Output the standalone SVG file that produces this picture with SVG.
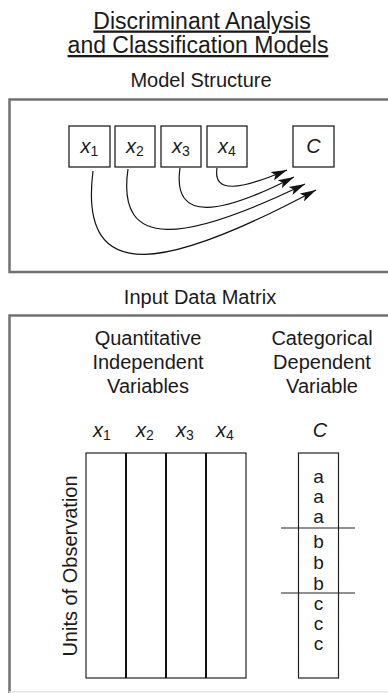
<svg xmlns="http://www.w3.org/2000/svg" width="388" height="693" viewBox="0 0 388 693">
  <style>
    text { font-family: "Liberation Sans", Arial, Helvetica, sans-serif; fill: #1a1a1a; }
    .title { font-size: 23px; text-anchor: middle; text-decoration: underline; }
    .head { font-size: 20px; text-anchor: middle; }
    .var { font-size: 20px; font-style: italic; text-anchor: middle; }
    .sub { font-size: 14px; font-style: normal; }
    .cat { font-size: 19px; text-anchor: middle; }
    .frame { fill: none; stroke: #707070; stroke-width: 2.5; }
    .box { fill: #fff; stroke: #222; stroke-width: 1.3; }
    .edge { fill: none; stroke: #111; stroke-width: 1.2; }
    .grid { fill: none; stroke: #222; stroke-width: 1.2; }
    .col { stroke: #111; stroke-width: 2; }
  </style>
  <defs>
    <marker id="arrow" markerUnits="userSpaceOnUse" markerWidth="17" markerHeight="11" refX="16" refY="5.5" orient="auto">
      <path d="M0,1 L16,5.5 L0,10 L3.5,5.5 Z" fill="#111"/>
    </marker>
  </defs>

  <rect width="388" height="693" fill="#fff"/>

  <!-- titles -->
  <text class="title" x="202" y="28.5">Discriminant Analysis</text>
  <text class="title" x="198" y="53">and Classification Models</text>
  <text class="head" x="201" y="87">Model Structure</text>

  <!-- model structure panel (open to the right) -->
  <path class="frame" d="M390,99.5 H9.5 V272 H390"/>

  <g id="node-x1">
    <rect class="box" x="69" y="126" width="41" height="41"/>
    <text class="var" x="89.5" y="153">x<tspan class="sub" dy="3">1</tspan></text>
  </g>
  <g id="node-x2">
    <rect class="box" x="115" y="126" width="40" height="41"/>
    <text class="var" x="135" y="153">x<tspan class="sub" dy="3">2</tspan></text>
  </g>
  <g id="node-x3">
    <rect class="box" x="161" y="126" width="40" height="41"/>
    <text class="var" x="181" y="153">x<tspan class="sub" dy="3">3</tspan></text>
  </g>
  <g id="node-x4">
    <rect class="box" x="207" y="126" width="40" height="41"/>
    <text class="var" x="227" y="153">x<tspan class="sub" dy="3">4</tspan></text>
  </g>
  <g id="node-C">
    <rect class="box" x="293" y="126" width="41" height="41"/>
    <text class="var" x="313.5" y="153">C</text>
  </g>

  <g id="connectors">
    <path class="edge" marker-end="url(#arrow)" d="M217,168 C213,194 240,190 287,170"/>
    <path class="edge" marker-end="url(#arrow)" d="M180,168 C172,224 222,214 294,177"/>
    <path class="edge" marker-end="url(#arrow)" d="M128,169 C116,252 185,242 305,184"/>
    <path class="edge" marker-end="url(#arrow)" d="M93,171 C78,290 170,268 316,190"/>
  </g>

  <!-- input data matrix panel -->
  <text class="head" x="200" y="304">Input Data Matrix</text>
  <path class="frame" d="M390,315.5 H9.5 V693"/>
  <line x1="9" y1="692" x2="390" y2="692" stroke="#e4e4e4" stroke-width="1.5"/>

  <g id="quantitative">
    <text class="head" x="148" y="345">Quantitative</text>
    <text class="head" x="148" y="369">Independent</text>
    <text class="head" x="148" y="393">Variables</text>
    <text class="var" x="102" y="437">x<tspan class="sub" dy="3">1</tspan></text>
    <text class="var" x="145" y="437">x<tspan class="sub" dy="3">2</tspan></text>
    <text class="var" x="185" y="437">x<tspan class="sub" dy="3">3</tspan></text>
    <text class="var" x="225" y="437">x<tspan class="sub" dy="3">4</tspan></text>
    <rect class="grid" x="86" y="453" width="160" height="225"/>
    <line class="col" x1="126" y1="453" x2="126" y2="678"/>
    <line class="col" x1="166" y1="453" x2="166" y2="678"/>
    <line class="col" x1="206" y1="453" x2="206" y2="678"/>
    <text class="head" transform="translate(77,566) rotate(-90)">Units of Observation</text>
  </g>

  <g id="categorical">
    <text class="head" x="322" y="345">Categorical</text>
    <text class="head" x="322" y="369">Dependent</text>
    <text class="head" x="322" y="393">Variable</text>
    <text class="var" x="320" y="437">C</text>
    <rect class="grid" x="298.5" y="453" width="40" height="225"/>
    <line class="grid" x1="281" y1="528" x2="355" y2="528"/>
    <line class="grid" x1="281" y1="593" x2="355" y2="593"/>
    <text class="cat" x="318.5" y="483">a</text>
    <text class="cat" x="318.5" y="503">a</text>
    <text class="cat" x="318.5" y="523">a</text>
    <text class="cat" x="318.5" y="548">b</text>
    <text class="cat" x="318.5" y="569">b</text>
    <text class="cat" x="318.5" y="590">b</text>
    <text class="cat" x="318.5" y="610">c</text>
    <text class="cat" x="318.5" y="630">c</text>
    <text class="cat" x="318.5" y="650">c</text>
  </g>
</svg>
